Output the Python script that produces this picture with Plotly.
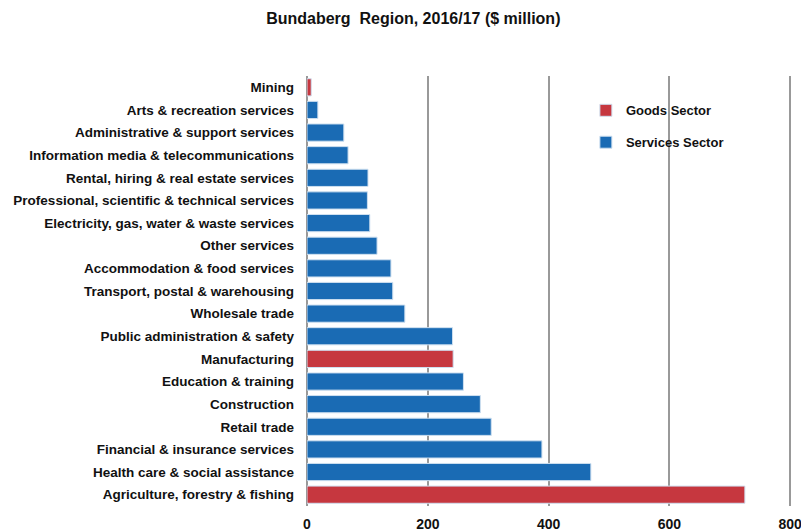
import plotly.graph_objects as go

# Industries from top to bottom, with output ($ million) and sector
industries = [
    "Mining",
    "Arts & recreation services",
    "Administrative & support services",
    "Information media & telecommunications",
    "Rental, hiring & real estate services",
    "Professional, scientific & technical services",
    "Electricity, gas, water & waste services",
    "Other services",
    "Accommodation & food services",
    "Transport, postal & warehousing",
    "Wholesale trade",
    "Public administration & safety",
    "Manufacturing",
    "Education & training",
    "Construction",
    "Retail trade",
    "Financial & insurance services",
    "Health care & social assistance",
    "Agriculture, forestry & fishing",
]
values = [7, 18, 61, 68, 101, 100, 104, 116, 139, 142, 162, 241, 242, 259, 287, 305, 389, 470, 725]
sectors = ["Goods", "Services", "Services", "Services", "Services", "Services", "Services",
           "Services", "Services", "Services", "Services", "Services", "Goods", "Services",
           "Services", "Services", "Services", "Services", "Goods"]
x_ticks = [0, 200, 400, 600, 800]

GOODS_RED = "#c6373f"
SERVICES_BLUE = "#1a6bb4"
FONT = "Liberation Sans, Arial, sans-serif"

fig = go.Figure()
for name, key, colour in [("Goods Sector", "Goods", GOODS_RED),
                          ("Services Sector", "Services", SERVICES_BLUE)]:
    ys = [ind for ind, s in zip(industries, sectors) if s == key]
    xs = [v for v, s in zip(values, sectors) if s == key]
    fig.add_trace(go.Bar(
        x=xs, y=ys, orientation="h", name=f"<b>{name}</b>", legendgroup=name,
        marker=dict(color=colour, line=dict(color="#cfe0f0", width=1)),
    ))

fig.update_layout(
    width=801, height=532,
    margin=dict(l=307, r=9, t=76, b=26, autoexpand=False),
    paper_bgcolor="white", plot_bgcolor="white",
    barmode="relative", bargap=0.24,
    font=dict(family=FONT, size=13, color="#1a1a1a"),
    title=dict(text="<b>Bundaberg  Region, 2016/17 ($ million)</b>",
               x=0.516, xanchor="center", y=0.966, yanchor="middle",
               font=dict(family=FONT, size=16, color="#111")),
    legend=dict(x=0.575, y=0.955, xanchor="left", yanchor="top",
                traceorder="grouped", tracegroupgap=12,
                font=dict(family=FONT, size=13, color="#111"),
                bgcolor="rgba(0,0,0,0)", itemwidth=30),
    xaxis=dict(range=[0, 803], tickvals=x_ticks, ticktext=[f"<b>{t}</b>" for t in x_ticks],
               showgrid=True, gridcolor="#999999", gridwidth=1.5,
               zeroline=True, zerolinecolor="#999999", zerolinewidth=1.5,
               showline=False, ticks="", tickfont=dict(size=14, color="#111"),
               ticklabelstandoff=8, ticklabeloverflow="allow",
               automargin=False, fixedrange=True),
    yaxis=dict(categoryorder="array", categoryarray=industries, autorange="reversed",
               ticktext=[f"<b>{c}</b>" for c in industries], tickvals=industries,
               showgrid=False, ticks="", ticklabelstandoff=12, automargin=False,
               tickfont=dict(size=13.5, color="#111")),
    showlegend=True,
)

fig.write_html("out.html")
